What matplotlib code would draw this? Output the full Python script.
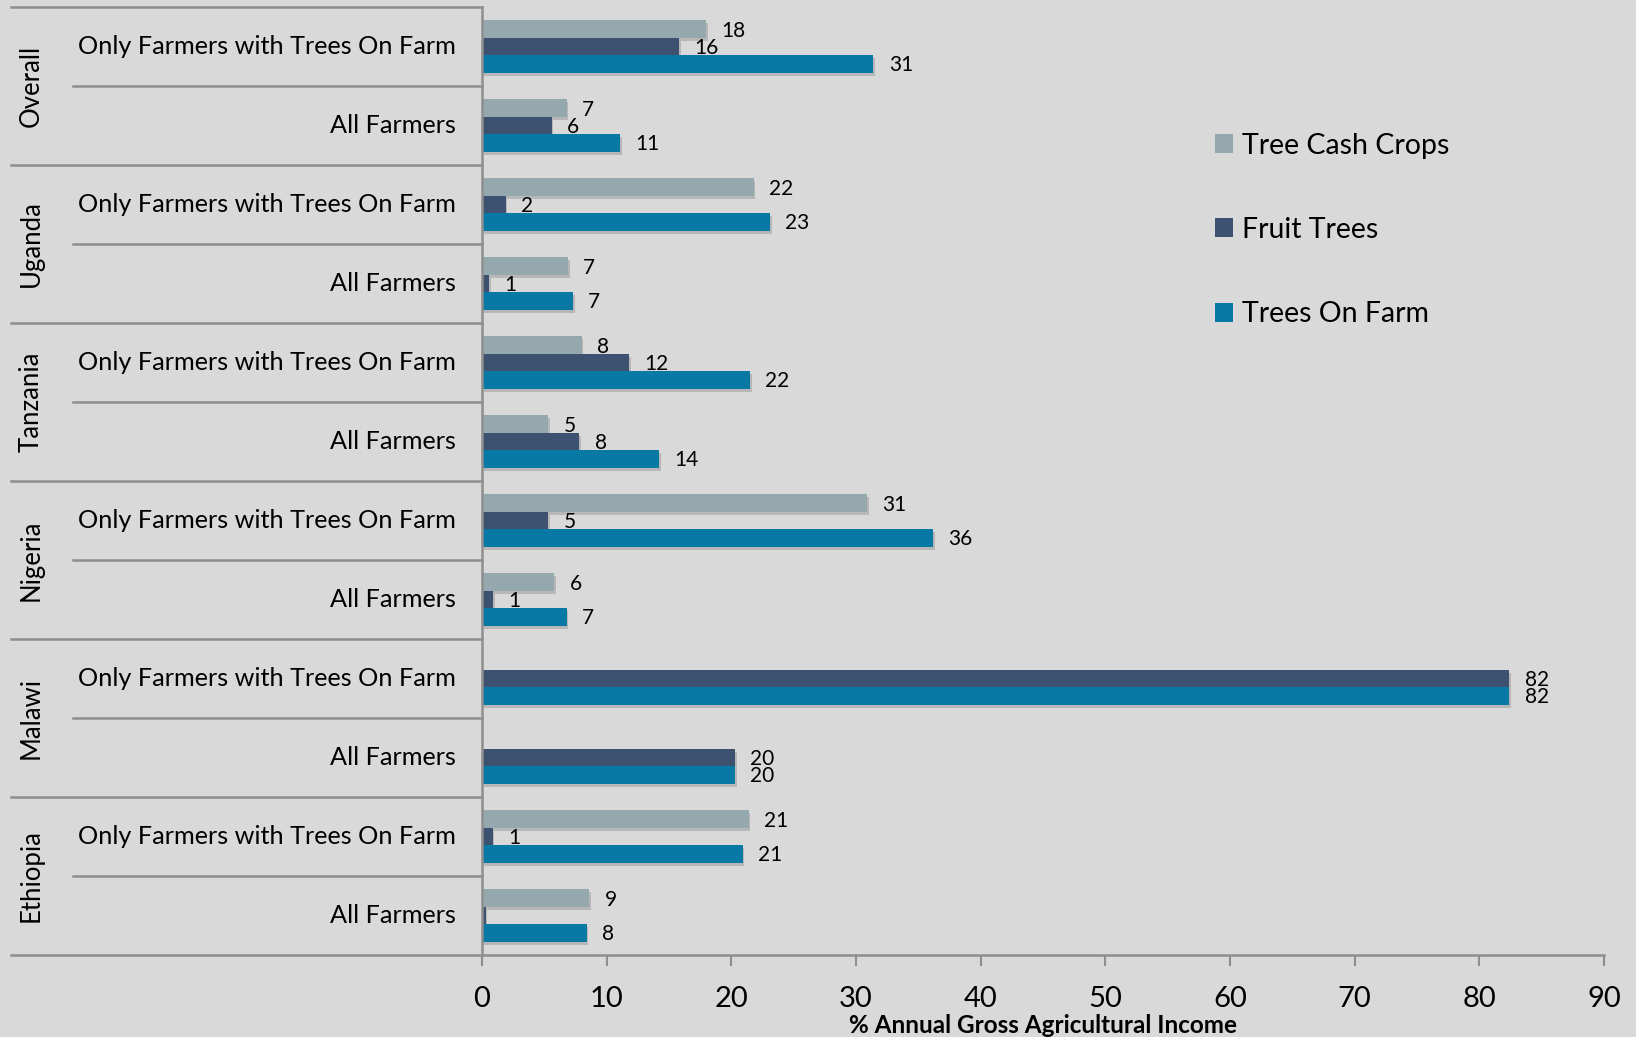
import numpy as np
import matplotlib
matplotlib.use("Agg")
import matplotlib.pyplot as plt
import matplotlib.patheffects as pe
from matplotlib.transforms import blended_transform_factory

plt.rcParams['font.family'] = ['Lato', 'DejaVu Sans']

# data, top to bottom
countries = ['Overall', 'Uganda', 'Tanzania', 'Nigeria', 'Malawi', 'Ethiopia']
subgroups = ['Only Farmers with Trees On Farm', 'All Farmers']
series = ['Tree Cash Crops', 'Fruit Trees', 'Trees On Farm']
tree_cash = [18.0, 6.8, 21.8, 6.9, 8.0, 5.3, 30.9, 5.8, np.nan, np.nan, 21.4, 8.6]
fruit = [15.8, 5.6, 1.9, 0.6, 11.8, 7.8, 5.3, 0.9, 82.4, 20.3, 0.85, 0.3]
trees_farm = [31.4, 11.1, 23.1, 7.3, 21.5, 14.2, 36.2, 6.8, 82.4, 20.3, 20.9, 8.4]
xticks = [0, 10, 20, 30, 40, 50, 60, 70, 80, 90]

colors = ['#95A8AD', '#3D5170', '#0878A4']
bg = '#D9D9D9'
line_c = '#8E8E8E'

W, H = 1636, 1037
fig = plt.figure(figsize=(W / 100, H / 100), dpi=100, facecolor=bg)
ax = fig.add_axes([482 / W, (H - 955) / H, (1604 - 482) / W, (955 - 7) / H])
ax.set_facecolor(bg)

n = len(tree_cash)
ypos = np.arange(n) + 0.5
bh = 0.22
shadow = [pe.SimplePatchShadow(offset=(1.2, -2.2), shadow_rgbFace='#7A7A7A', alpha=0.35), pe.Normal()]

for k, vals in enumerate([tree_cash, fruit, trees_farm]):
    vals = np.array(vals, dtype=float)
    yy = ypos + (k - 1) * bh
    bars = ax.barh(yy, np.nan_to_num(vals), height=bh, color=colors[k], label=series[k])
    for b, v in zip(bars, vals):
        if np.isnan(v):
            b.set_visible(False)
            continue
        b.set_path_effects(shadow)
        if round(v) >= 1:
            ax.annotate(f"{v:.0f}", (v, b.get_y() + bh / 2), xytext=(11, -1),
                        textcoords='offset points', ha='left', va='center', fontsize=15)

ax.set_xlim(0, 90)
ax.set_ylim(n, 0)
ax.set_xticks(xticks)
ax.set_yticks([])
ax.tick_params(axis='x', direction='out', length=8, width=1.5, color=line_c,
               labelsize=21, pad=14)
for s in ['top', 'right']:
    ax.spines[s].set_visible(False)
for s in ['left', 'bottom']:
    ax.spines[s].set_color(line_c)
    ax.spines[s].set_linewidth(1.8)
ax.set_xlabel('% Annual Gross Agricultural Income', fontsize=17.5, fontweight='bold', labelpad=2)

# category axis on the left
tr = blended_transform_factory(fig.transFigure, ax.transData)
x_axis = 482 / W
for i in range(0, n + 1):
    x0 = 11 / W if i % 2 == 0 else 73 / W
    ax.plot([x0, x_axis], [i, i], transform=tr, color=line_c, lw=1.8, clip_on=False)
for i in range(n):
    ax.text(456 / W, ypos[i], subgroups[i % 2], transform=tr, ha='right', va='center', fontsize=18.2)
for j, c in enumerate(countries):
    ax.text(31 / W, 2 * j + 1, c, transform=tr, ha='center', va='center', rotation=90, fontsize=18.5)

leg = ax.legend(loc='upper left', bbox_to_anchor=(1189 / W, 1 - 107 / H), bbox_transform=fig.transFigure,
                frameon=False, fontsize=20.5, handlelength=0.65, handleheight=0.65, handletextpad=0.3,
                labelspacing=2.05)
for h in leg.legend_handles:
    h.set_path_effects([])

fig.savefig('out.png', dpi=100, facecolor=bg)
